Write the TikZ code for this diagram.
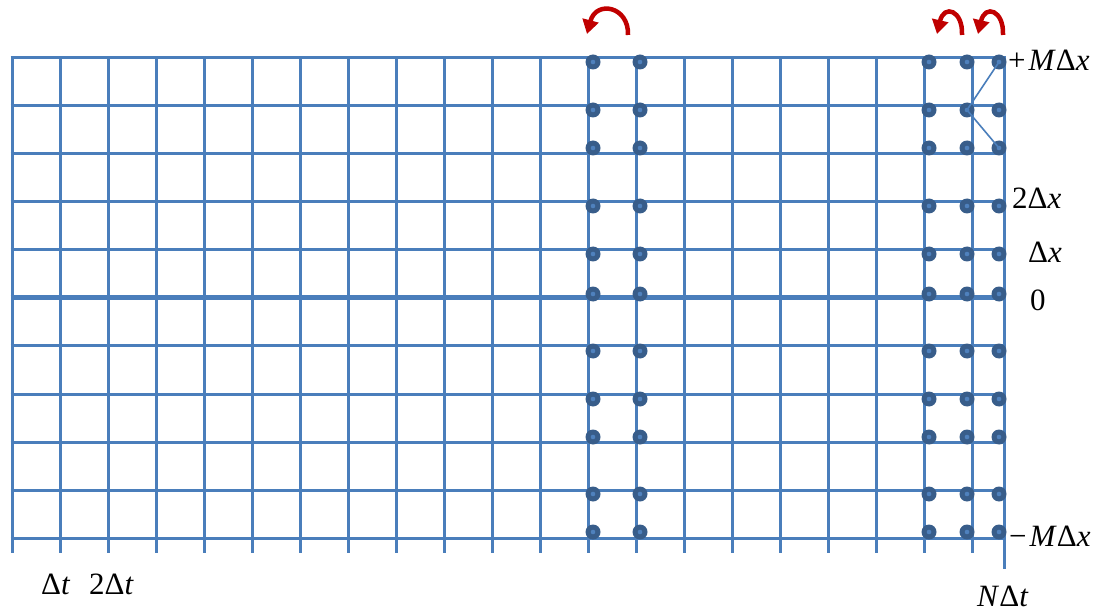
\documentclass[tikz,border=0pt]{standalone}
\usepackage{fontspec}
\setmainfont{Liberation Serif}
\usetikzlibrary{arrows.meta}
\definecolor{gridblue}{RGB}{74,126,187}
\definecolor{dotdark}{RGB}{56,93,138}
\definecolor{dotlight}{RGB}{79,129,189}
\definecolor{arrred}{RGB}{192,0,0}
\begin{document}
\begin{tikzpicture}[x=1pt,y=-1pt,
  gridline/.style={draw=gridblue,line width=3pt},
  axisline/.style={draw=gridblue,line width=5pt},
  dotnode/.style={circle,fill=dotdark,minimum size=15pt,inner sep=0pt,
    path picture={\fill[dotlight] (path picture bounding box.center) circle (2.3pt);}},
  link/.style={draw=gridblue,line width=1.6pt},
  turn/.style={draw=arrred,line width=4.5pt,-{Triangle[length=14pt,width=16pt]}},
  lab/.style={anchor=base west,inner sep=0pt,font=\fontsize{31}{36}\selectfont}
]
\useasboundingbox (0,0) rectangle (1097,612);
% vertical grid lines
\foreach \i in {0,...,20} {
  \draw[gridline] ({12+48*\i},57) -- ({12+48*\i},553);
}
\draw[gridline] (1004,57) -- (1004,569);
% horizontal grid lines
\foreach \y in {58,106,154,202,250,345,394,442,490,538} {
  \draw[gridline] (10.5,\y) -- (1005.5,\y);
}
\draw[axisline] (10.5,297) -- (1005.5,297);
% dots
\foreach \c/\x in {a/593,b/640,c/929,d/967,e/999} {
  \foreach \r/\y in {1/62,2/110,3/148,4/206,5/254,6/294,7/351,8/399,9/437,10/494,11/532} {
    \node[dotnode] (d-\c-\r) at (\x,\y) {};
  }
}
% links
\draw[link] (d-d-2.center) -- (d-e-1.center);
\draw[link] (d-d-2.center) -- (d-e-3.center);
% red turning arrows
\coordinate (s1) at (628,35);
\coordinate (t1) at (587,34);
\draw[turn] (s1) .. controls (629,6) and (596,0) .. (t1);
\coordinate (s2) at (962,35);
\coordinate (t2) at (937,34);
\draw[turn] (s2) .. controls (963,10) and (944,4) .. (t2);
\coordinate (s3) at (1003,35);
\coordinate (t3) at (978,34);
\draw[turn] (s3) .. controls (1004,10) and (985,4) .. (t3);
% labels
\node[lab] (lM) at (1008,71) {+\kern3pt\textit{M}Δ\textit{x}};
\node[lab] (l2) at (1012,209) {2Δ\textit{x}};
\node[lab] (l1) at (1028,263) {Δ\textit{x}};
\node[lab] (l0) at (1030,310) {0};
\node[lab] (lmM) at (1009,546) {−\kern3pt\textit{M}Δ\textit{x}};
\node[lab] (lN) at (977,606) {\textit{N}Δ\textit{t}};
\node[lab] (lt1) at (41,594) {Δ\textit{t}};
\node[lab] (lt2) at (89,594) {2Δ\textit{t}};
\end{tikzpicture}
\end{document}
